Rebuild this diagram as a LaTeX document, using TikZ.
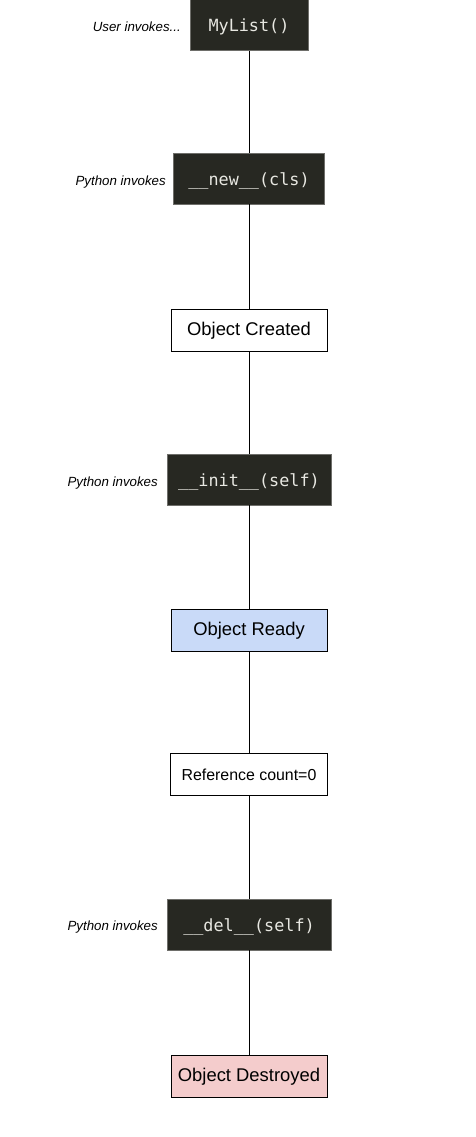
\documentclass[tikz,border=0pt]{standalone}
\usepackage{fontspec}
\setmainfont{Liberation Sans}
\setmonofont{DejaVu Sans Mono}
\usepackage{tikz}
\usetikzlibrary{arrows,shapes}

\definecolor{codebg}{HTML}{272822}
\definecolor{codefg}{HTML}{E8E8E2}
\definecolor{codeedge}{HTML}{6E6E6A}
\definecolor{readyblue}{HTML}{C9DAF8}
\definecolor{deadpink}{HTML}{F4CCCC}

\tikzset{
	codebox/.style={draw=codeedge, fill=codebg, text=codefg, line width=0.8pt, inner sep=0pt, minimum height=51pt, text height=1.3em, text depth=0pt, font=\ttfamily\fontsize{16.8}{20}\selectfont},
	statebox/.style={draw=black, fill=white, line width=0.8pt, inner sep=0pt, minimum height=42pt, text height=1.15em, text depth=0pt, font=\fontsize{18.4}{22}\selectfont},
	caller/.style={anchor=east, inner sep=0pt, text height=1.1em, text depth=0pt, font=\itshape\fontsize{13.3}{16}\selectfont},
	lifeline/.style={draw=black, line width=0.8pt}
}

\begin{document}
\begin{tikzpicture}[x=1pt, y=-1pt]
		\useasboundingbox[fill=white] (0, 0) rectangle (475, 1137);

		\node[codebox, minimum width=118pt] (mylist) at (249, 25) {MyList()};
		\node[codebox, minimum width=151pt] (new) at (249, 178.5) {\_\_new\_\_(cls)};
		\node[statebox, minimum width=156pt] (created) at (249, 330) {Object Created};
		\node[codebox, minimum width=164pt] (init) at (249, 479.5) {\_\_init\_\_(self)};
		\node[statebox, fill=readyblue, minimum width=156pt] (ready) at (249, 630) {Object Ready};
		\node[statebox, minimum width=157pt, font=\fontsize{15.9}{19}\selectfont] (refzero) at (249, 774.5) {Reference count=0};
		\node[codebox, minimum width=164pt] (del) at (249, 924.5) {\_\_del\_\_(self)};
		\node[statebox, fill=deadpink, minimum width=156pt] (destroyed) at (249, 1076) {Object Destroyed};

		\node[caller] (userlbl) at (181, 26) {User invokes...};
		\node[caller] (newlbl) at (166, 180) {Python invokes};
		\node[caller] (initlbl) at (158, 481) {Python invokes};
		\node[caller] (dellbl) at (158, 925) {Python invokes};

		\draw[lifeline] (mylist) -- (new);
		\draw[lifeline] (new) -- (created);
		\draw[lifeline] (created) -- (init);
		\draw[lifeline] (init) -- (ready);
		\draw[lifeline] (ready) -- (refzero);
		\draw[lifeline] (refzero) -- (del);
		\draw[lifeline] (del) -- (destroyed);
	\end{tikzpicture}
\end{document}
